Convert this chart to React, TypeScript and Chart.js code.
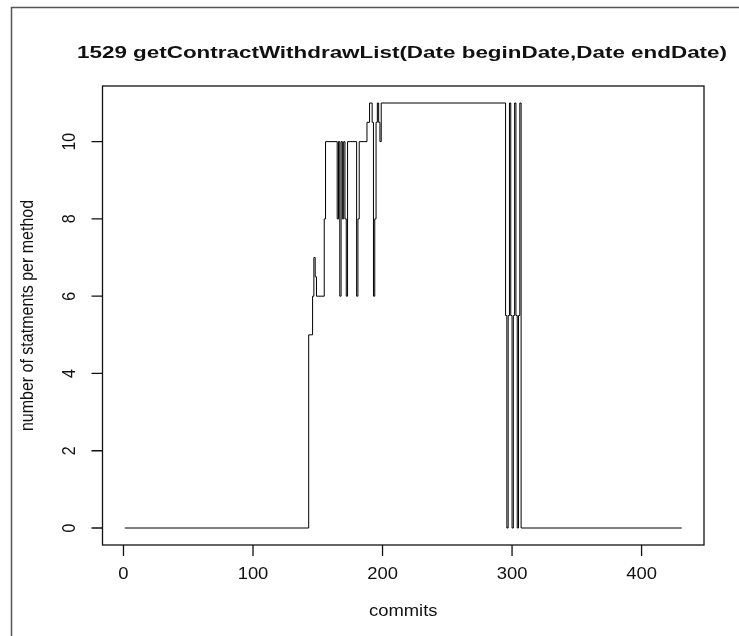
import React, { useEffect, useRef } from "react";
import { Chart, registerables } from "chart.js";

Chart.register(...registerables);

// Commit index where the value changes, and the new number of statements
const commitIdx = [
  1, 143, 146, 147, 148, 149, 155, 156,
  165, 166, 167, 168, 169, 170, 171, 172, 173,
  180, 181, 182, 188, 190, 192, 193, 194, 195, 196, 197, 198, 199,
  295, 296, 297, 298, 299, 300, 301, 302, 303, 304, 305, 306, 307, 431,
];
const statements = [
  0, 5, 6, 7, 6.5, 6, 8, 10,
  8, 10, 6, 10, 8, 10, 8, 6, 10,
  6, 8, 10, 10.5, 11, 10.5, 6, 8, 10.5, 11, 10.5, 10, 11,
  5.5, 0, 5.5, 11, 5.5, 0, 5.5, 11, 5.5, 0, 5.5, 11, 0, 0,
];
const xTicks = [0, 100, 200, 300, 400];
const yTicks = [0, 2, 4, 6, 8, 10];
const titleText = "1529 getContractWithdrawList(Date beginDate,Date endDate)";
const xTitle = "commits";
const yTitle = "number of statments per method";

const FONT = '"Liberation Sans", Arial, sans-serif';
const SX = 1.15;

const rPlot = {
  id: "rPlot",
  afterDraw(chart: any) {
    const ctx = chart.ctx as CanvasRenderingContext2D;
    const ca = chart.chartArea;
    const xs = chart.scales.x;
    const ys = chart.scales.y;
    ctx.save();
    // outer frame
    ctx.strokeStyle = "#555";
    ctx.lineWidth = 1.5;
    ctx.beginPath();
    ctx.moveTo(11.5, 640);
    ctx.lineTo(11.5, 7.5);
    ctx.lineTo(740, 7.5);
    ctx.stroke();
    // plot box
    ctx.strokeStyle = "#111";
    ctx.lineWidth = 1.3;
    ctx.strokeRect(ca.left, ca.top, ca.right - ca.left, ca.bottom - ca.top);
    // ticks
    ctx.beginPath();
    xTicks.forEach((t) => {
      const px = xs.getPixelForValue(t);
      ctx.moveTo(px, ca.bottom);
      ctx.lineTo(px, ca.bottom + 11);
    });
    yTicks.forEach((t) => {
      const py = ys.getPixelForValue(t);
      ctx.moveTo(ca.left, py);
      ctx.lineTo(ca.left - 11, py);
    });
    ctx.stroke();
    ctx.fillStyle = "#111";
    ctx.textAlign = "center";
    ctx.textBaseline = "middle";
    ctx.font = `16px ${FONT}`;
    xTicks.forEach((t) => {
      const px = xs.getPixelForValue(t);
      ctx.save();
      ctx.translate(px, 575);
      ctx.scale(SX, 1);
      ctx.fillText(String(t), 0, 0);
      ctx.restore();
    });
    yTicks.forEach((t) => {
      const py = ys.getPixelForValue(t);
      ctx.save();
      ctx.translate(70, py);
      ctx.scale(SX, 1);
      ctx.rotate(-Math.PI / 2);
      ctx.fillText(String(t), 0, 0);
      ctx.restore();
    });
    // axis titles
    ctx.save();
    ctx.translate((ca.left + ca.right) / 2, 612);
    ctx.scale(SX, 1);
    ctx.fillText(xTitle, 0, 0);
    ctx.restore();
    ctx.save();
    ctx.translate(28, (ca.top + ca.bottom) / 2);
    ctx.scale(SX, 1);
    ctx.rotate(-Math.PI / 2);
    ctx.fillText(yTitle, 0, 0);
    ctx.restore();
    // main title
    ctx.font = `bold 16px ${FONT}`;
    ctx.textBaseline = "alphabetic";
    const w = ctx.measureText(titleText).width;
    ctx.save();
    ctx.translate(402, 57.5);
    ctx.scale(650 / w, 1);
    ctx.fillText(titleText, 0, 0);
    ctx.restore();
    ctx.restore();
  },
};

export default function App() {
  const ref = useRef<HTMLCanvasElement | null>(null);
  useEffect(() => {
    if (!ref.current) return;
    const chart = new Chart(ref.current, {
      type: "line",
      data: {
        datasets: [
          {
            data: commitIdx.map((c, i) => ({ x: c, y: statements[i] })),
            stepped: true,
            borderColor: "#000",
            borderWidth: 1,
            pointRadius: 0,
            fill: false,
          },
        ],
      },
      options: {
        animation: false,
        responsive: false,
        devicePixelRatio: 1,
        layout: { padding: { left: 102.5, right: 35, top: 86, bottom: 91 } },
        scales: {
          x: { type: "linear", min: -16.2, max: 448.2, display: false },
          y: { type: "linear", min: -0.44, max: 11.44, display: false },
        },
        plugins: { legend: { display: false }, tooltip: { enabled: false } },
      },
      plugins: [rPlot],
    });
    return () => chart.destroy();
  }, []);
  return (
    <div style={{ position: "absolute", left: 0, top: 0, width: 739, height: 636, background: "#fff" }}>
      <canvas ref={ref} width={739} height={636} />
    </div>
  );
}
